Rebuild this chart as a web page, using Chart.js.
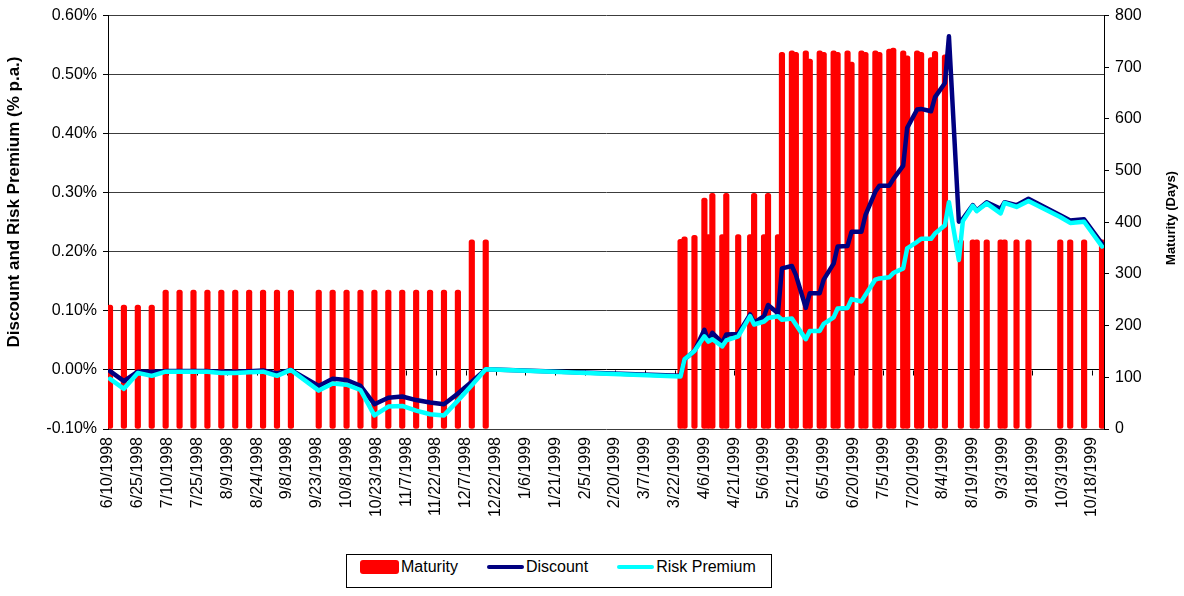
<!DOCTYPE html>
<html lang="en">
<head>
<meta charset="UTF-8">
<title>Discount, Risk Premium and Maturity</title>
<script src="https://cdn.jsdelivr.net/npm/chart.js"></script>
<style>
  body { margin: 0; background: #fff; }
  #wrap { position: relative; width: 1184px; height: 596px; }
  #legend {
    position: absolute; left: 346px; top: 554px; width: 426px; height: 34px;
    box-sizing: border-box; border: 1px solid #000; background: #fff;
    display: flex; align-items: flex-start; padding: 3px 0 0 13px;
    font: 16px 'Liberation Sans', Arial, sans-serif; line-height: 18px;
    white-space: nowrap;
  }
  #legend .item { display: flex; align-items: center; flex-shrink: 0; margin-right: 29px; }
  #legend .item:last-child { margin-right: 0; }
  #legend .swatch { margin-right: 2px; flex-shrink: 0; }
  #legend .box { width: 39px; height: 14px; border-radius: 3px; }
  #legend .line { width: 37px; height: 4px; border-radius: 2px; }
</style>
</head>
<body>
<div id="wrap">
  <canvas id="chart" width="1184" height="596"></canvas>
  <div id="legend"></div>
</div>
<script>
const FONT = "'Liberation Sans', Arial, sans-serif";

const leftTitle = 'Discount and Risk Premium (% p.a.)';
const rightTitle = 'Maturity (Days)';

const tickDates = ['6/10/1998', '6/25/1998', '7/10/1998', '7/25/1998', '8/9/1998', '8/24/1998',
  '9/8/1998', '9/23/1998', '10/8/1998', '10/23/1998', '11/7/1998', '11/22/1998', '12/7/1998',
  '12/22/1998', '1/6/1999', '1/21/1999', '2/5/1999', '2/20/1999', '3/7/1999', '3/22/1999',
  '4/6/1999', '4/21/1999', '5/6/1999', '5/21/1999', '6/5/1999', '6/20/1999', '7/5/1999',
  '7/20/1999', '8/4/1999', '8/19/1999', '9/3/1999', '9/18/1999', '10/3/1999', '10/18/1999'];

// maturity bars (days)
const maturityDates = [
  '6/10/1998', '6/17/1998', '6/24/1998', '7/1/1998', '7/8/1998', '7/15/1998', '7/22/1998',
  '7/29/1998', '8/5/1998', '8/12/1998', '8/19/1998', '8/26/1998', '9/2/1998', '9/9/1998',
  '9/23/1998', '9/30/1998', '10/7/1998', '10/14/1998', '10/21/1998', '10/28/1998', '11/4/1998',
  '11/11/1998', '11/18/1998', '11/25/1998', '12/2/1998', '12/9/1998', '12/16/1998',
  '3/24/1999', '3/26/1999', '3/31/1999', '4/5/1999', '4/7/1999', '4/9/1999', '4/14/1999',
  '4/16/1999', '4/22/1999', '4/28/1999', '4/30/1999', '5/5/1999', '5/7/1999', '5/12/1999',
  '5/14/1999', '5/19/1999', '5/21/1999', '5/26/1999', '5/28/1999', '6/2/1999', '6/4/1999',
  '6/9/1999', '6/11/1999', '6/16/1999', '6/18/1999', '6/23/1999', '6/25/1999', '6/30/1999',
  '7/2/1999', '7/7/1999', '7/9/1999', '7/14/1999', '7/16/1999', '7/21/1999', '7/23/1999',
  '7/28/1999', '7/30/1999', '8/4/1999',
  '8/12/1999', '8/18/1999', '8/20/1999', '8/25/1999', '9/1/1999', '9/3/1999', '9/9/1999',
  '9/15/1999', '10/1/1999', '10/6/1999', '10/13/1999', '10/22/1999'];
const maturityDays = [
  240, 240, 240, 240, 269, 269, 269,
  269, 269, 269, 269, 269, 269, 269,
  269, 269, 269, 269, 269, 269, 269,
  269, 269, 269, 269, 366, 366,
  367, 372, 375, 447, 376, 456, 376,
  456, 376, 376, 456, 376, 456, 376,
  729, 732, 729, 732, 716, 732, 729,
  732, 729, 732, 710, 732, 729, 732,
  729, 735, 737, 732, 722, 732, 729,
  719, 731, 724,
  366, 366, 366, 366, 366, 366, 366,
  366, 366, 366, 366, 366];

// discount and risk premium lines (% p.a.)
const lineDates = [
  '6/10/1998', '6/17/1998', '6/24/1998', '7/1/1998', '7/8/1998', '7/15/1998', '7/22/1998',
  '7/29/1998', '8/5/1998', '8/12/1998', '8/19/1998', '8/26/1998', '9/2/1998', '9/9/1998',
  '9/23/1998', '9/30/1998', '10/7/1998', '10/14/1998', '10/21/1998', '10/28/1998', '11/4/1998',
  '11/11/1998', '11/18/1998', '11/25/1998', '12/2/1998', '12/9/1998', '12/16/1998',
  '3/24/1999', '3/26/1999', '3/31/1999', '4/5/1999', '4/7/1999', '4/9/1999', '4/14/1999',
  '4/16/1999', '4/22/1999', '4/28/1999', '4/30/1999', '5/5/1999', '5/7/1999', '5/12/1999',
  '5/14/1999', '5/19/1999', '5/21/1999', '5/26/1999', '5/28/1999', '6/2/1999', '6/4/1999',
  '6/9/1999', '6/11/1999', '6/16/1999', '6/18/1999', '6/23/1999', '6/25/1999', '6/30/1999',
  '7/2/1999', '7/7/1999', '7/9/1999', '7/14/1999', '7/16/1999', '7/21/1999', '7/23/1999',
  '7/28/1999', '7/30/1999', '8/4/1999', '8/6/1999', '8/11/1999', '8/13/1999', '8/18/1999',
  '8/20/1999', '8/25/1999', '9/1/1999', '9/3/1999', '9/9/1999', '9/15/1999', '10/1/1999',
  '10/6/1999', '10/13/1999', '10/22/1999'];
const discount = [
  -0.002, -0.019, -0.003, -0.003, -0.002, -0.002, -0.002,
  -0.002, -0.003, -0.003, -0.002, -0.001, -0.006, 0.000,
  -0.027, -0.015, -0.017, -0.027, -0.058, -0.047, -0.045,
  -0.051, -0.055, -0.058, -0.040, -0.020, 0.001,
  -0.010, 0.018, 0.032, 0.068, 0.049, 0.063, 0.046,
  0.060, 0.061, 0.094, 0.080, 0.091, 0.110, 0.096,
  0.172, 0.176, 0.161, 0.105, 0.130, 0.130, 0.153,
  0.180, 0.209, 0.210, 0.234, 0.234, 0.262, 0.302,
  0.312, 0.312, 0.323, 0.346, 0.410, 0.441, 0.442,
  0.438, 0.462, 0.486, 0.565, 0.251, 0.256, 0.279,
  0.270, 0.284, 0.273, 0.284, 0.279, 0.290, 0.262,
  0.253, 0.255, 0.214];
const riskPremium = [
  -0.015, -0.032, -0.005, -0.010, -0.003, -0.003, -0.003,
  -0.003, -0.005, -0.005, -0.004, -0.003, -0.010, 0.000,
  -0.035, -0.023, -0.025, -0.034, -0.077, -0.062, -0.061,
  -0.069, -0.075, -0.077, -0.052, -0.026, 0.001,
  -0.011, 0.018, 0.032, 0.057, 0.048, 0.052, 0.040,
  0.050, 0.057, 0.091, 0.077, 0.082, 0.088, 0.091,
  0.085, 0.087, 0.077, 0.052, 0.066, 0.066, 0.078,
  0.089, 0.104, 0.105, 0.120, 0.116, 0.127, 0.153,
  0.155, 0.157, 0.164, 0.172, 0.206, 0.217, 0.222,
  0.222, 0.231, 0.245, 0.284, 0.186, 0.252, 0.278,
  0.269, 0.282, 0.265, 0.283, 0.276, 0.286, 0.259,
  0.249, 0.251, 0.209];

Chart.defaults.font.family = FONT;
Chart.defaults.font.size = 16;
Chart.defaults.color = '#000';

const START = Date.UTC(1998, 5, 10);
function dayOf(s) {
  const [m, d, y] = s.split('/').map(Number);
  return (Date.UTC(y, m - 1, d) - START) / 86400000;
}
// Excel puts each day's mark one slot right of that day's tick
const slot = s => dayOf(s) + 1;
const points = (dates, values) => dates.map((d, i) => ({ x: slot(d), y: values[i] }));

// tick marks on the category axis, which crosses at 0.00%, plus the two axis titles
const excelAxes = {
  id: 'excelAxes',
  beforeDatasetsDraw(chart) {
    const { ctx, scales: { x, y } } = chart;
    const y0 = Math.round(y.getPixelForValue(0)) + 0.5;
    ctx.save();
    ctx.strokeStyle = '#000';
    ctx.lineWidth = 1;
    ctx.beginPath();
    x.ticks.forEach(t => {
      const px = Math.round(x.getPixelForValue(t.value)) + 0.5;
      ctx.moveTo(px, y0);
      ctx.lineTo(px, y0 + 5);
    });
    ctx.stroke();
    ctx.restore();
  },
  afterDraw(chart) {
    const ctx = chart.ctx;
    ctx.save();
    ctx.fillStyle = '#000';
    ctx.textAlign = 'center';
    ctx.textBaseline = 'middle';
    [[leftTitle, 14, 202, 17], [rightTitle, 1171, 218, 13]].forEach(([text, tx, ty, size]) => {
      ctx.save();
      ctx.font = 'bold ' + size + 'px ' + FONT;
      ctx.translate(tx, ty);
      ctx.rotate(-Math.PI / 2);
      ctx.fillText(text, 0, 0);
      ctx.restore();
    });
    ctx.restore();
  }
};

const chart = new Chart(document.getElementById('chart'), {
  type: 'bar',
  data: {
    datasets: [
      {
        type: 'bar',
        label: 'Maturity',
        data: points(maturityDates, maturityDays),
        yAxisID: 'y1',
        backgroundColor: '#ff0000',
        barThickness: 5.5,
        borderRadius: 2.5,
        borderSkipped: false,
        order: 3
      },
      {
        type: 'line',
        label: 'Discount',
        data: points(lineDates, discount),
        yAxisID: 'y',
        borderColor: '#000080',
        backgroundColor: '#000080',
        borderWidth: 4.5,
        pointRadius: 0,
        tension: 0,
        borderJoinStyle: 'round',
        borderCapStyle: 'round',
        order: 2
      },
      {
        type: 'line',
        label: 'Risk Premium',
        data: points(lineDates, riskPremium),
        yAxisID: 'y',
        borderColor: '#00ffff',
        backgroundColor: '#00ffff',
        borderWidth: 4.5,
        pointRadius: 0,
        tension: 0,
        borderJoinStyle: 'round',
        borderCapStyle: 'round',
        order: 1
      }
    ]
  },
  options: {
    responsive: false,
    animation: false,
    devicePixelRatio: 1,
    events: [],
    layout: { padding: { top: 13, left: 0, right: 0, bottom: 0 } },
    plugins: { legend: { display: false }, tooltip: { enabled: false } },
    scales: {
      x: {
        type: 'linear',
        offset: false,
        min: 0,
        max: slot('10/22/1999') + 1,
        afterBuildTicks: s => { s.ticks = tickDates.map(t => ({ value: dayOf(t) })); },
        afterFit: s => { s.height = 167; },
        ticks: {
          autoSkip: false,
          minRotation: 90,
          maxRotation: 90,
          padding: 8,
          callback: (v, i) => tickDates[i]
        },
        grid: { display: false, drawTicks: false },
        border: { display: false }
      },
      y: {
        position: 'left',
        min: -0.1,
        max: 0.6,
        afterFit: s => { s.width = 108; },
        ticks: {
          stepSize: 0.1,
          padding: 6,
          callback: v => (Math.abs(v) < 1e-9 ? 0 : v).toFixed(2) + '%'
        },
        grid: {
          color: c => (c.tick && Math.abs(c.tick.value) < 1e-9 ? '#000' : '#3c3c3c'),
          tickColor: '#000',
          tickLength: 5
        },
        border: { color: '#000' }
      },
      y1: {
        position: 'right',
        min: 0,
        max: 800,
        afterFit: s => { s.width = 80; },
        ticks: { stepSize: 100, padding: 6 },
        grid: { drawOnChartArea: false, tickColor: '#000', tickLength: 5 },
        border: { color: '#000' }
      }
    }
  },
  plugins: [excelAxes]
});

// legend box under the axis, built from the datasets
const legend = document.getElementById('legend');
chart.data.datasets.forEach(ds => {
  const item = document.createElement('span');
  item.className = 'item';
  const sw = document.createElement('span');
  sw.className = 'swatch ' + (ds.type === 'bar' ? 'box' : 'line');
  sw.style.background = ds.type === 'bar' ? ds.backgroundColor : ds.borderColor;
  item.append(sw, document.createTextNode(ds.label));
  legend.append(item);
});
</script>
</body>
</html>
